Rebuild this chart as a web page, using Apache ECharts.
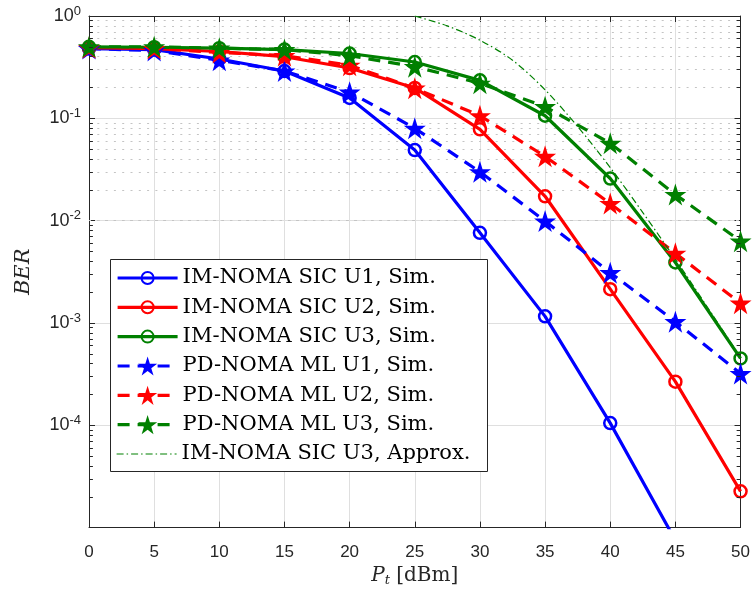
<!DOCTYPE html>
<html><head><meta charset="utf-8">
<script src="https://cdn.jsdelivr.net/npm/echarts@6/dist/echarts.min.js"></script>
<style>html,body{margin:0;padding:0;background:#fff}#c{width:753px;height:592px}</style>
</head><body><div id="c"></div>
<script>
// ---- data ----
const pt = [0, 5, 10, 15, 20, 25, 30, 35, 40, 45, 50];
const imU1 = [0.48, 0.47, 0.38, 0.29, 0.158, 0.049, 0.0076, 0.00116, 1.05e-4, 7.5e-6, 4e-7];
const imU2 = [0.49, 0.48, 0.45, 0.40, 0.31, 0.198, 0.078, 0.0173, 0.00214, 2.67e-4, 2.26e-5];
const imU3 = [0.50, 0.495, 0.485, 0.47, 0.43, 0.355, 0.235, 0.106, 0.0258, 0.0039, 4.5e-4];
const pdU1 = [0.48, 0.46, 0.37, 0.29, 0.18, 0.080, 0.030, 0.0099, 0.0031, 0.00103, 3.2e-4];
const pdU2 = [0.49, 0.48, 0.44, 0.41, 0.33, 0.197, 0.106, 0.0425, 0.0147, 0.0048, 0.00156];
const pdU3 = [0.50, 0.50, 0.485, 0.47, 0.41, 0.32, 0.22, 0.13, 0.057, 0.018, 0.0063];
const apxX = [25, 27.5, 30, 32.5, 35, 37.5, 40, 42.5, 45, 47.5, 50];
const apxU3 = [1.0, 0.80, 0.58, 0.37, 0.19, 0.083, 0.033, 0.012, 0.0042, 0.0014, 4.6e-4];
const names = ['IM-NOMA SIC U1, Sim.', 'IM-NOMA SIC U2, Sim.', 'IM-NOMA SIC U3, Sim.',
  'PD-NOMA ML U1, Sim.', 'PD-NOMA ML U2, Sim.', 'PD-NOMA ML U3, Sim.', 'IM-NOMA SIC U3, Approx.'];
const xTicks = {min: 0, max: 50, interval: 5};
const yRange = {min: 1e-5, max: 1};

// ---- styles ----
const BLUE = '#0000ff', RED = '#ff0000', GREEN = '#008000', AX = '#262626';
const SERIF = 'DejaVu Serif';
const STAR = 'path://M50,0 L61.23,34.55 L97.55,34.55 L68.16,55.9 L79.39,90.45 L50,69.1 L20.61,90.45 L31.84,55.9 L2.45,34.55 L38.77,34.55 Z';
const pairs = (xs, ys) => xs.map((x, i) => [x, ys[i]]);
const LW = 3.2;

function simS(name, ys, color) {
  return {name, type: 'line', data: pairs(pt, ys), symbol: 'circle', symbolSize: 12,
    lineStyle: {color, width: LW}, itemStyle: {color: 'rgba(0,0,0,0)', borderColor: color, borderWidth: 2.5},
    emphasis: {disabled: true}, z: 2};
}
function pdS(name, ys, color) {
  return {name, type: 'line', data: pairs(pt, ys), symbol: STAR, symbolSize: 22,
    lineStyle: {color, width: LW, type: [12, 8]}, itemStyle: {color},
    emphasis: {disabled: true}, z: 2};
}

const minorVals = [];
for (let d = -5; d <= -1; d++) for (let k = 2; k <= 9; k++) minorVals.push(k * Math.pow(10, d));

const gridSeries = {
  name: '_grid', type: 'line', data: [], silent: true,
  markLine: {silent: true, symbol: ['none', 'none'], z: 1, animation: false,
    label: {show: false}, lineStyle: {type: [2, 6.3], color: '#c4c4c4', width: 1},
    data: minorVals.map(v => ({yAxis: v}))}
};
const tickSeries = {
  name: '_ticks', type: 'line', data: [], silent: true,
  markLine: {silent: true, symbol: ['none', 'none'], z: 6, animation: false,
    label: {show: false}, lineStyle: {type: 'solid', color: AX, width: 1},
    data: minorVals.flatMap(v => [
      [{coord: [xTicks.min, v]}, {coord: [xTicks.min + 0.3, v]}],
      [{coord: [xTicks.max, v]}, {coord: [xTicks.max - 0.3, v]}]
    ])}
};

const legendText = {fontFamily: SERIF, fontSize: 21, lineHeight: 24, color: '#000'};
const legBase = {orient: 'vertical', left: 116, itemWidth: 60, itemGap: 5.3, padding: 0,
  textStyle: legendText, selectedMode: false, lineStyle: {width: LW}};

const chart = echarts.init(document.getElementById('c'), null, {renderer: 'canvas'});
chart.setOption({
  animation: false,
  backgroundColor: '#fff',
  grid: {left: 89, right: 12, top: 16, bottom: 63},
  graphic: [{type: 'rect', z: 3, shape: {x: 110.5, y: 259.5, width: 377, height: 212},
    style: {fill: '#fff', stroke: AX, lineWidth: 1}}],
  legend: [
    Object.assign({}, legBase, {top: 266, itemHeight: 15, data: names.slice(0, 3)}),
    Object.assign({}, legBase, {top: 354, itemHeight: 24, data: names.slice(3, 6)}),
    Object.assign({}, legBase, {top: 442, itemHeight: 15, lineStyle: {width: 1.2},
      data: [{name: names[6], itemStyle: {color: 'rgba(0,0,0,0)', borderColor: 'rgba(0,0,0,0)', borderWidth: 0}}]})
  ],
  xAxis: [{
    type: 'value', min: xTicks.min, max: xTicks.max, interval: xTicks.interval, position: 'bottom',
    axisLine: {show: true, onZero: false, lineStyle: {color: AX, width: 1}},
    axisTick: {show: true, inside: true, length: 6, lineStyle: {color: AX}},
    axisLabel: {fontFamily: 'Liberation Sans', fontSize: 17, color: AX, margin: 16},
    splitLine: {show: true, lineStyle: {color: '#dfdfdf', width: 1}},
    name: '{i|P}{s|t} {r|[dBm]}', nameLocation: 'middle', nameGap: 34,
    nameTextStyle: {rich: {
      i: {fontFamily: SERIF, fontStyle: 'italic', fontSize: 20, color: AX},
      s: {fontFamily: SERIF, fontStyle: 'italic', fontSize: 13, color: AX, verticalAlign: 'top', padding: [10, 3, 0, 0]},
      r: {fontFamily: SERIF, fontSize: 20, color: AX}}}
  }, {
    type: 'value', min: xTicks.min, max: xTicks.max, interval: xTicks.interval, position: 'top',
    axisLine: {show: true, onZero: false, lineStyle: {color: AX, width: 1}},
    axisTick: {show: true, inside: true, length: 6, lineStyle: {color: AX}},
    axisLabel: {show: false}, splitLine: {show: false}
  }],
  yAxis: [{
    type: 'log', logBase: 10, min: yRange.min, max: yRange.max, position: 'left',
    axisLine: {show: true, onZero: false, lineStyle: {color: AX, width: 1}},
    axisTick: {show: true, inside: true, length: 6, lineStyle: {color: AX}},
    splitLine: {show: true, lineStyle: {color: '#dfdfdf', width: 1}},
    axisLabel: {margin: 8, formatter: v => {
      const e = Math.round(Math.log10(v));
      if (e <= -5) return '';
      return '{b|10}{s|' + e + '}';
    }, rich: {
      b: {fontFamily: 'Liberation Sans', fontSize: 18, color: AX},
      s: {fontFamily: 'Liberation Sans', fontSize: 13, color: AX, verticalAlign: 'top', padding: [0, 0, 10, 0]}}},
    name: 'BER', nameLocation: 'middle', nameGap: 55, nameRotate: 90,
    nameTextStyle: {fontFamily: SERIF, fontStyle: 'italic', fontSize: 21, color: AX}
  }, {
    type: 'log', logBase: 10, min: yRange.min, max: yRange.max, position: 'right',
    axisLine: {show: true, onZero: false, lineStyle: {color: AX, width: 1}},
    axisTick: {show: true, inside: true, length: 6, lineStyle: {color: AX}},
    axisLabel: {show: false}, splitLine: {show: false}
  }],
  series: [
    gridSeries,
    simS(names[0], imU1, BLUE),
    simS(names[1], imU2, RED),
    simS(names[2], imU3, GREEN),
    pdS(names[3], pdU1, BLUE),
    pdS(names[4], pdU2, RED),
    pdS(names[5], pdU3, GREEN),
    {name: names[6], type: 'line', data: pairs(apxX, apxU3), symbol: 'none', showSymbol: false, smooth: 0.3,
      lineStyle: {color: GREEN, width: 1.2, type: [7, 3, 1.5, 3]}, itemStyle: {color: GREEN},
      emphasis: {disabled: true}, z: 2},
    tickSeries
  ]
});
</script>
</body></html>
